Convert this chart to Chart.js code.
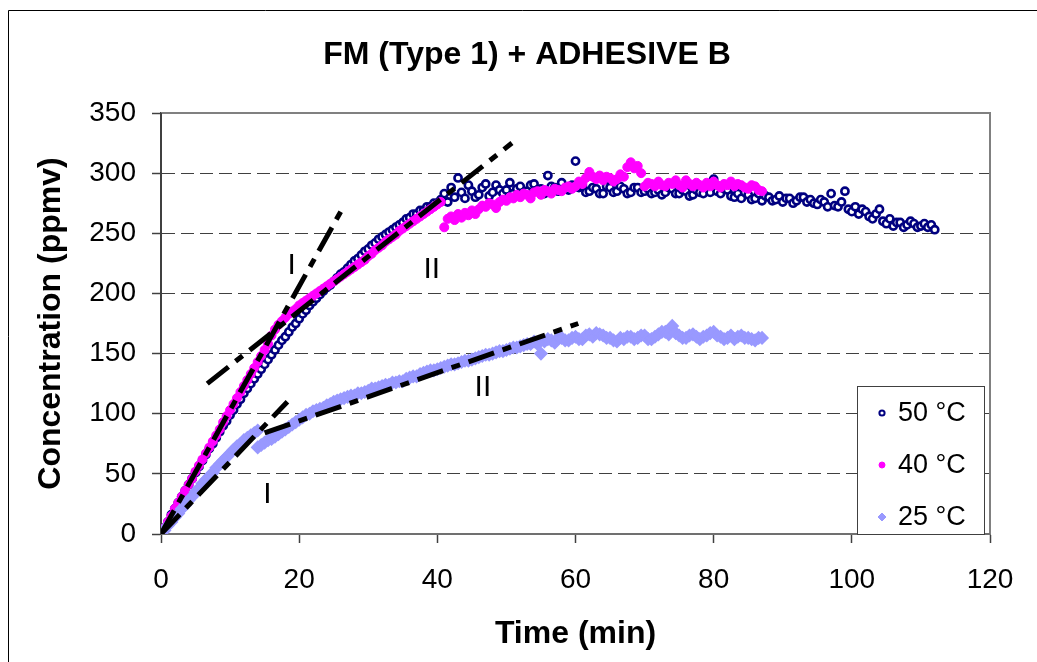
<!DOCTYPE html>
<html>
<head>
<meta charset="utf-8">
<title>FM (Type 1) + ADHESIVE B</title>
<script src="https://cdn.jsdelivr.net/npm/chart.js@4.4.1/dist/chart.umd.min.js"></script>
<style>
  html, body { margin: 0; padding: 0; background: #fff; }
  #wrap { position: relative; width: 1037px; height: 662px; }
</style>
</head>
<body>
<div id="wrap"><canvas id="chart" width="1037" height="662"></canvas></div>
<script>
const chartTitle = "FM (Type 1) + ADHESIVE B";
const seriesLabels = ["50 °C", "40 °C", "25 °C"];
const xTicks = [0, 20, 40, 60, 80, 100, 120];
const yTicks = [0, 50, 100, 150, 200, 250, 300, 350];

// 50 °C
const time50 = [
  0, 0.5, 1, 1.5, 2, 2.5, 3, 3.5, 4, 4.5,
  5, 5.5, 6, 6.5, 7, 7.5, 8, 8.5, 9, 9.5,
  10, 10.5, 11, 11.5, 12, 12.5, 13, 13.5, 14, 14.5,
  15, 15.5, 16, 16.5, 17, 17.5, 18, 18.5, 19, 19.5,
  20, 20.5, 21, 21.5, 22, 22.5, 23, 23.5, 24, 24.5,
  25, 25.5, 26, 26.5, 27, 27.5, 28, 28.5, 29, 29.5,
  30, 30.5, 31, 31.5, 32, 32.5, 33, 33.5, 34, 34.5,
  35, 35.5, 36, 36.5, 37, 37.5, 38, 38.5, 39, 39.5,
  40, 40.5, 41, 41.5, 42, 42.5, 43, 43.5, 44, 44.5,
  45, 45.5, 46, 46.5, 47, 47.5, 48, 48.5, 49, 49.5,
  50, 50.5, 51, 51.5, 52, 52.5, 53, 53.5, 54, 54.5,
  55, 55.5, 56, 56.5, 57, 57.5, 58, 58.5, 59, 59.5,
  60, 60.5, 61, 61.5, 62, 62.5, 63, 63.5, 64, 64.5,
  65, 65.5, 66, 66.5, 67, 67.5, 68, 68.5, 69, 69.5,
  70, 70.5, 71, 71.5, 72, 72.5, 73, 73.5, 74, 74.5,
  75, 75.5, 76, 76.5, 77, 77.5, 78, 78.5, 79, 79.5,
  80, 80.5, 81, 81.5, 82, 82.5, 83, 83.5, 84, 84.5,
  85, 85.5, 86, 86.5, 87, 87.5, 88, 88.5, 89, 89.5,
  90, 90.5, 91, 91.5, 92, 92.5, 93, 93.5, 94, 94.5,
  95, 95.5, 96, 96.5, 97, 97.5, 98, 98.5, 99, 99.5,
  100, 100.5, 101, 101.5, 102, 102.5, 103, 103.5, 104, 104.5,
  105, 105.5, 106, 106.5, 107, 107.5, 108, 108.5, 109, 109.5,
  110, 110.5, 111, 111.5, 112
];
const conc50 = [
  0, 5, 10, 16, 21, 26, 31, 36, 41, 46,
  51, 56, 61, 66, 71, 75, 80, 85, 90, 94,
  99, 103, 108, 112, 117, 121, 125, 129, 133, 137,
  141, 145, 149, 153, 157, 161, 164, 168, 172, 175,
  179, 183, 186, 190, 193, 196, 199, 202, 205, 207,
  210, 213, 216, 218, 221, 224, 227, 229, 232, 235,
  237, 240, 242, 245, 247, 249, 251, 253, 255, 257,
  259, 262, 263, 266, 266, 269, 269, 272, 272, 275,
  275, 278, 283, 276, 288, 280, 296, 284, 279, 290,
  285, 280, 282, 288, 291, 281, 284, 290, 286, 283,
  286, 292, 283, 287, 289, 284, 285, 290, 291, 286,
  287, 283, 298, 289, 288, 285, 292, 287, 286, 290,
  310, 288, 289, 284, 285, 288, 287, 283, 283, 289,
  288, 284, 285, 289, 287, 283, 284, 288, 288, 284,
  285, 287, 283, 284, 286, 282, 284, 288, 287, 283,
  283, 286, 285, 281, 282, 286, 284, 283, 288, 284,
  295, 285, 283, 287, 286, 281, 280, 283, 279, 284,
  282, 278, 279, 283, 277, 281, 280, 277, 278, 281,
  276, 279, 279, 275, 277, 280, 280, 276, 278, 275,
  274, 278, 276, 272, 283, 273, 272, 276, 285, 270,
  268, 272, 266, 270, 268, 264, 262, 266, 270, 260,
  258, 262, 256, 259, 259, 255, 257, 260, 258, 255,
  256, 258, 255, 257, 253
];

// 40 °C
const time40 = [
  0, 0.5, 1, 1.5, 2, 2.5, 3, 3.5, 4, 4.5,
  5, 5.5, 6, 6.5, 7, 7.5, 8, 8.5, 9, 9.5,
  10, 10.5, 11, 11.5, 12, 12.5, 13, 13.5, 14, 14.5,
  15, 15.5, 16, 16.5, 17, 17.5, 18, 18.5, 19, 19.5,
  20, 20.5, 21, 21.5, 22, 22.5, 23, 23.5, 24, 24.5,
  25, 25.5, 26, 26.5, 27, 27.5, 28, 28.5, 29, 29.5,
  30, 30.5, 31, 31.5, 32, 32.5, 33, 33.5, 34, 34.5,
  35, 35.5, 36, 36.5, 37, 37.5, 38, 38.5, 39, 39.5,
  40, 40.5, 41, 41.5, 42, 42.5, 43, 43.5, 44, 44.5,
  45, 45.5, 46, 46.5, 47, 47.5, 48, 48.5, 49, 49.5,
  50, 50.5, 51, 51.5, 52, 52.5, 53, 53.5, 54, 54.5,
  55, 55.5, 56, 56.5, 57, 57.5, 58, 58.5, 59, 59.5,
  60, 60.5, 61, 61.5, 62, 62.5, 63, 63.5, 64, 64.5,
  65, 65.5, 66, 66.5, 67, 67.5, 68, 68.5, 69, 69.5,
  70, 70.5, 71, 71.5, 72, 72.5, 73, 73.5, 74, 74.5,
  75, 75.5, 76, 76.5, 77, 77.5, 78, 78.5, 79, 79.5,
  80, 80.5, 81, 81.5, 82, 82.5, 83, 83.5, 84, 84.5,
  85, 85.5, 86, 86.5, 87
];
const conc40 = [
  0, 5, 10, 15, 21, 26, 31, 36, 41, 46,
  52, 57, 62, 67, 72, 77, 82, 87, 93, 98,
  103, 108, 113, 118, 123, 128, 133, 138, 143, 148,
  153, 158, 165, 170, 174, 177, 180, 183, 185, 187,
  190, 192, 194, 196, 198, 200, 202, 204, 206, 208,
  210, 212, 214, 216, 218, 220, 222, 224, 226, 228,
  231, 233, 236, 238, 240, 243, 245, 247, 249, 252,
  254, 256, 258, 260, 262, 264, 266, 268, 270, 272,
  274, 276, 255, 262, 264, 261, 266, 263, 267, 265,
  269, 266, 270, 273, 272, 275, 274, 271, 276, 278,
  277, 280, 279, 282, 280, 283, 282, 279, 284, 285,
  282, 286, 285, 283, 287, 286, 285, 288, 289, 287,
  289, 293, 291, 296, 301, 297, 295, 298, 294, 297,
  296, 293, 295, 299, 297, 305, 309, 304, 306, 300,
  289, 292, 291, 289, 293, 290, 289, 292, 291, 294,
  290, 288, 294, 291, 289, 292, 290, 288, 292, 289,
  293, 290, 288, 291, 290, 293, 289, 291, 290, 288,
  287, 290, 289, 286, 285
];

// 25 °C
const time25 = [
  0, 0.5, 1, 1.5, 2, 2.5, 3, 3.5, 4, 4.5,
  5, 5.5, 6, 6.5, 7, 7.5, 8, 8.5, 9, 9.5,
  10, 10.5, 11, 11.5, 12, 12.5, 13, 13.5, 14,
  14, 14.5, 15, 15.5, 16, 16.5, 17, 17.5, 18, 18.5,
  19, 19.5, 20, 20.5, 21, 21.5, 22, 22.5, 23, 23.5,
  24, 24.5, 25, 25.5, 26, 26.5, 27, 27.5, 28, 28.5,
  29, 29.5, 30, 30.5, 31, 31.5, 32, 32.5, 33, 33.5,
  34, 34.5, 35, 35.5, 36, 36.5, 37, 37.5, 38, 38.5,
  39, 39.5, 40, 40.5, 41, 41.5, 42, 42.5, 43, 43.5,
  44, 44.5, 45, 45.5, 46, 46.5, 47, 47.5, 48, 48.5,
  49, 49.5, 50, 50.5, 51, 51.5, 52, 52.5, 53, 53.5,
  54, 54.5, 55, 55.5, 56, 56.5, 57, 57.5, 58, 58.5,
  59, 59.5, 60, 60.5, 61, 61.5, 62, 62.5, 63, 63.5,
  64, 64.5, 65, 65.5, 66, 66.5, 67, 67.5, 68, 68.5,
  69, 69.5, 70, 70.5, 71, 71.5, 72, 72.5, 73, 73.5,
  74, 74.5, 75, 75.5, 76, 76.5, 77, 77.5, 78, 78.5,
  79, 79.5, 80, 80.5, 81, 81.5, 82, 82.5, 83, 83.5,
  84, 84.5, 85, 85.5, 86, 86.5, 87
];
const conc25 = [
  0, 3, 7, 10, 14, 17, 21, 24, 28, 31,
  35, 38, 42, 45, 48, 51, 55, 58, 61, 64,
  67, 70, 73, 75, 78, 80, 82, 84, 86,
  72, 74, 76, 78, 79, 81, 83, 85, 87, 89,
  91, 93, 95, 97, 99, 100, 102, 103, 104, 105,
  107, 108, 110, 111, 112, 113, 114, 115, 115, 117,
  117, 118, 119, 121, 121, 122, 123, 124, 124, 126,
  126, 127, 127, 129, 130, 131, 131, 133, 134, 135,
  136, 136, 137, 138, 139, 140, 141, 141, 142, 143,
  144, 144, 145, 146, 147, 148, 149, 149, 150, 151,
  152, 152, 153, 154, 155, 155, 156, 157, 158, 158,
  160, 158, 150, 160, 162, 161, 159, 163, 163, 161,
  161, 163, 164, 162, 162, 165, 166, 164, 167, 166,
  165, 163, 163, 161, 160, 163, 162, 164, 164, 162,
  163, 165, 165, 162, 162, 164, 166, 168, 168, 166,
  173, 167, 165, 163, 163, 165, 166, 164, 162, 164,
  165, 167, 168, 165, 164, 162, 163, 165, 162, 164,
  165, 163, 163, 162, 161, 163, 163
];

// dashed trend lines (stage I / stage II)
const fitTimeI50 = [0, 26.6];
const fitConcI50 = [0, 274];
const fitTimeII50 = [6.7, 50.8];
const fitConcII50 = [125, 325];
const fitTimeI25 = [0, 18.3];
const fitConcI25 = [0, 110];
const fitTimeII25 = [15, 60.4];
const fitConcII25 = [84, 175];

// stage labels
const stageText = ["I", "II", "I", "II"];
const stageTime = [18.9, 39.2, 15.4, 46.6];
const stageConc = [223, 220, 33, 122];

const FONT = 'Arial, "Liberation Sans", sans-serif';

function toPoints(xs, ys) {
  return xs.map((x, i) => ({ x: x, y: ys[i] }));
}

function fitLine(xs, ys) {
  return {
    data: toPoints(xs, ys),
    showLine: true,
    borderColor: '#000000',
    borderWidth: 5,
    borderDash: [27, 9, 9, 9],
    borderCapStyle: 'butt',
    pointRadius: 0,
    fill: false,
    order: 0
  };
}

const decorPlugin = {
  id: 'decor',
  beforeDraw(chart) {
    const ctx = chart.ctx;
    ctx.save();
    ctx.fillStyle = '#ffffff';
    ctx.fillRect(0, 0, chart.width, chart.height);
    // outer chart frame
    ctx.strokeStyle = '#000000';
    ctx.lineWidth = 1;
    ctx.beginPath();
    ctx.moveTo(8.5, chart.height);
    ctx.lineTo(8.5, 10.5);
    ctx.lineTo(chart.width, 10.5);
    ctx.stroke();
    ctx.restore();
  },
  beforeDatasetsDraw(chart) {
    const ctx = chart.ctx;
    const a = chart.chartArea;
    ctx.save();
    ctx.strokeStyle = '#808080';
    ctx.lineWidth = 2;
    ctx.beginPath();
    ctx.moveTo(a.left, a.top);
    ctx.lineTo(a.right, a.top);
    ctx.lineTo(a.right, a.bottom);
    ctx.stroke();
    ctx.strokeStyle = '#404040';
    ctx.beginPath();
    ctx.moveTo(a.left, a.top);
    ctx.lineTo(a.left, a.bottom);
    ctx.stroke();
    ctx.strokeStyle = '#707070';
    ctx.beginPath();
    ctx.moveTo(a.left, a.bottom);
    ctx.lineTo(a.right, a.bottom);
    ctx.stroke();
    ctx.restore();
  },
  afterDraw(chart) {
    const ctx = chart.ctx;
    const xs = chart.scales.x;
    const ys = chart.scales.y;
    ctx.save();

    // title
    ctx.fillStyle = '#000000';
    ctx.font = 'bold 32px ' + FONT;
    ctx.textAlign = 'center';
    ctx.textBaseline = 'middle';
    ctx.fillText(chartTitle, 527, 55);

    // stage labels
    ctx.font = '30px ' + FONT;
    stageText.forEach((t, i) => {
      ctx.fillText(t, xs.getPixelForValue(stageTime[i]), ys.getPixelForValue(stageConc[i]));
    });

    // legend box
    ctx.fillStyle = '#ffffff';
    ctx.fillRect(857, 386, 127, 148);
    ctx.strokeStyle = '#404040';
    ctx.lineWidth = 1;
    ctx.strokeRect(857.5, 386.5, 127, 148);
    const rows = [413, 465, 517];
    ctx.font = '27px ' + FONT;
    ctx.textAlign = 'left';
    [3, 2, 1].forEach((dsIndex, i) => {
      const ds = chart.data.datasets[dsIndex];
      ctx.fillStyle = ds.backgroundColor;
      ctx.strokeStyle = ds.borderColor;
      ctx.lineWidth = ds.legendBorder;
      Chart.helpers.drawPoint(ctx, {
        pointStyle: ds.pointStyle,
        radius: ds.legendRadius,
        rotation: 0,
        borderWidth: ds.legendBorder
      }, 882, rows[i]);
      ctx.fillStyle = '#000000';
      ctx.fillText(ds.label, 898, rows[i] + 1);
    });
    ctx.restore();
  }
};

const ctx = document.getElementById('chart').getContext('2d');
new Chart(ctx, {
  type: 'scatter',
  data: {
    datasets: [
      fitLine(fitTimeI50, fitConcI50),
      {
        label: seriesLabels[2],
        data: toPoints(time25, conc25),
        pointStyle: 'rectRot',
        pointRadius: 6,
        legendRadius: 4,
        legendBorder: 1,
        backgroundColor: '#9999FF',
        borderColor: '#9999FF',
        borderWidth: 1.5,
        order: 1
      },
      {
        label: seriesLabels[1],
        data: toPoints(time40, conc40),
        pointStyle: 'circle',
        pointRadius: 4.5,
        legendRadius: 3,
        legendBorder: 1,
        backgroundColor: '#FF00FF',
        borderColor: '#FF00FF',
        borderWidth: 1,
        order: 2
      },
      {
        label: seriesLabels[0],
        data: toPoints(time50, conc50),
        pointStyle: 'circle',
        pointRadius: 3.6,
        legendRadius: 2.6,
        legendBorder: 2,
        backgroundColor: '#ffffff',
        borderColor: '#000080',
        borderWidth: 2.6,
        order: 3
      },
      fitLine(fitTimeII50, fitConcII50),
      fitLine(fitTimeI25, fitConcI25),
      fitLine(fitTimeII25, fitConcII25)
    ]
  },
  options: {
    responsive: false,
    animation: false,
    events: [],
    layout: { padding: { left: 0, top: 113, right: 47, bottom: 0 } },
    plugins: {
      legend: { display: false },
      tooltip: { enabled: false },
      title: { display: false }
    },
    scales: {
      x: {
        type: 'linear',
        min: 0,
        max: 120,
        afterBuildTicks(scale) { scale.ticks = xTicks.map(v => ({ value: v })); },
        afterFit(scale) { scale.height = 128; },
        ticks: { padding: 20, color: '#000000', font: { family: FONT, size: 28 } },
        grid: { drawOnChartArea: false, drawTicks: true, tickLength: 9, tickColor: '#404040', tickWidth: 1.5 },
        border: { display: true, color: '#707070', width: 2 },
        title: {
          display: true,
          text: 'Time (min)',
          color: '#000000',
          font: { family: FONT, size: 32, weight: 'bold', lineHeight: 1.2 },
          padding: { top: 0, bottom: 9 }
        }
      },
      y: {
        type: 'linear',
        min: 0,
        max: 350,
        afterBuildTicks(scale) { scale.ticks = yTicks.map(v => ({ value: v })); },
        afterFit(scale) { scale.width = 161; },
        ticks: { padding: 16, color: '#000000', font: { family: FONT, size: 28 } },
        grid: { color: '#404040', lineWidth: 1, drawTicks: true, tickLength: 9, tickColor: '#404040', tickWidth: 1.5, tickBorderDash: [] },
        border: { display: true, color: '#404040', width: 2, dash: [13, 6] },
        title: {
          display: true,
          text: 'Concentration (ppmv)',
          color: '#000000',
          font: { family: FONT, size: 32, weight: 'bold', lineHeight: 1.2 },
          padding: { top: 32, bottom: 0 }
        }
      }
    }
  },
  plugins: [decorPlugin]
});
</script>
</body>
</html>
